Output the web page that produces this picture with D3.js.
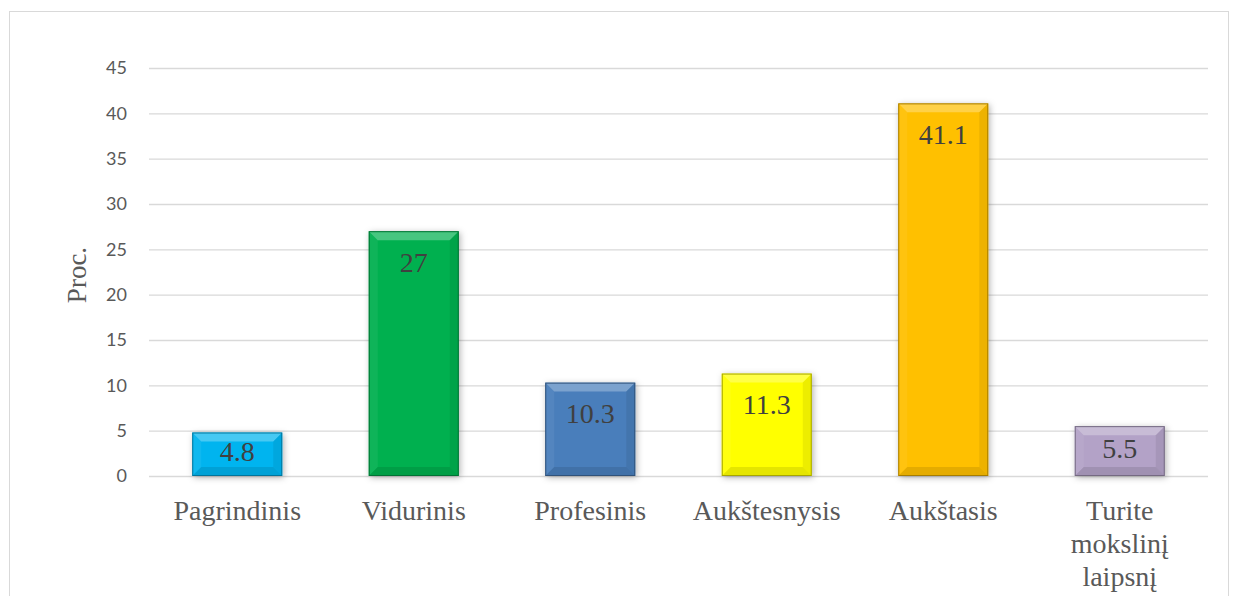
<!DOCTYPE html>
<html><head><meta charset="utf-8">
<script src="https://cdn.jsdelivr.net/npm/d3@7"></script>
<style>body{margin:0;background:#fff}svg{display:block}</style>
</head><body>
<svg id="c" width="1238" height="596"></svg>
<script>
const categories = ["Pagrindinis","Vidurinis","Profesinis","Aukštesnysis","Aukštasis","Turite mokslinį laipsnį"];
const values = [4.8, 27, 10.3, 11.3, 41.1, 5.5];
const colors = ["#00B4EF","#00B050","#4A7EBB","#FFFF00","#FFC000","#B3A2C7"];
const yTicks = [0,5,10,15,20,25,30,35,40,45];
const yTitle = "Proc.";

const svg = d3.select("#c");
const m = {left:149, right:1208, top:68, bottom:476};

svg.append("rect").attr("x",9.5).attr("y",11.5).attr("width",1219).attr("height",600)
  .attr("fill","#fff").attr("stroke","#d9d9d9");

const defs = svg.append("defs");
const f = defs.append("filter").attr("id","sh").attr("x","-20%").attr("y","-20%").attr("width","140%").attr("height","140%");
f.append("feDropShadow").attr("dx",1.5).attr("dy",1.5).attr("stdDeviation",3).attr("flood-color","#000").attr("flood-opacity",0.3);

const x = d3.scaleBand().domain(categories).range([m.left, m.right]).paddingInner(0.49).paddingOuter(0.245);
const y = d3.scaleLinear().domain([0,45]).range([m.bottom, m.top]);

svg.append("g").selectAll("line").data(yTicks).join("line")
  .attr("x1",m.left).attr("x2",m.right)
  .attr("y1",d=>y(d)+0.5).attr("y2",d=>y(d)+0.5)
  .attr("stroke","#d9d9d9").attr("stroke-width",1.3);

const yAxis = d3.axisLeft(y).tickValues(yTicks).tickSize(0).tickPadding(0);
const ga = svg.append("g").attr("transform",`translate(127,0)`).call(yAxis);
ga.select(".domain").remove();
ga.selectAll("text").attr("font-family","Lato, 'Open Sans', sans-serif").attr("font-size",18).attr("fill","#595959");

const serif = "'Liberation Serif','Times New Roman',serif";
const bw = x.bandwidth();
const bars = svg.append("g").selectAll("g").data(categories).join("g");
bars.each(function(c,i){
  const g = d3.select(this);
  const x0 = x(c), x1 = x0+bw, y0 = y(values[i]), y1 = y(0);
  const col = d3.color(colors[i]);
  g.append("rect").attr("x",x0).attr("y",y0).attr("width",bw).attr("height",y1-y0)
    .attr("fill",col).attr("filter","url(#sh)");
  const b = Math.min(9, (y1-y0)/3);
  const poly = (pts, fill, op) => g.append("polygon").attr("points",pts.map(p=>p.join(",")).join(" ")).attr("fill",fill).attr("opacity",op);
  poly([[x0,y0],[x1,y0],[x1-b,y0+b],[x0+b,y0+b]], "#fff", 0.28);
  poly([[x0,y0],[x0+b,y0+b],[x0+b,y1-b],[x0,y1]], "#fff", 0.06);
  poly([[x1,y0],[x1,y1],[x1-b,y1-b],[x1-b,y0+b]], "#000", 0.07);
  poly([[x0,y1],[x0+b,y1-b],[x1-b,y1-b],[x1,y1]], "#000", 0.1);
  g.append("rect").attr("x",x0+0.5).attr("y",y0+0.5).attr("width",bw-1).attr("height",y1-y0-1)
    .attr("fill","none").attr("stroke",col.darker(1.2)).attr("stroke-width",1);
  const h = y1-y0;
  const off = h > 60 ? 31 : Math.min(31, h/2 - 3);
  g.append("text").attr("x",x0+bw/2).attr("y",y0+off).attr("dy","0.35em")
    .attr("text-anchor","middle").attr("font-family",serif)
    .attr("font-size",28).attr("fill","#404040").text(values[i]);
});

const catLines = {"Turite mokslinį laipsnį":["Turite","mokslinį","laipsnį"]};
const cg = svg.append("g");
categories.forEach(c=>{
  const lines = catLines[c] || [c];
  const t = cg.append("text").attr("text-anchor","middle")
    .attr("font-family",serif).attr("font-size",28).attr("fill","#595959");
  lines.forEach((l,j)=>t.append("tspan").attr("x",x(c)+bw/2).attr("y",520+j*33).text(l));
});

svg.append("text").attr("transform","translate(86,275) rotate(-90)").attr("text-anchor","middle")
  .attr("font-family",serif).attr("font-size",27).attr("fill","#595959").text(yTitle);
</script>
</body></html>
